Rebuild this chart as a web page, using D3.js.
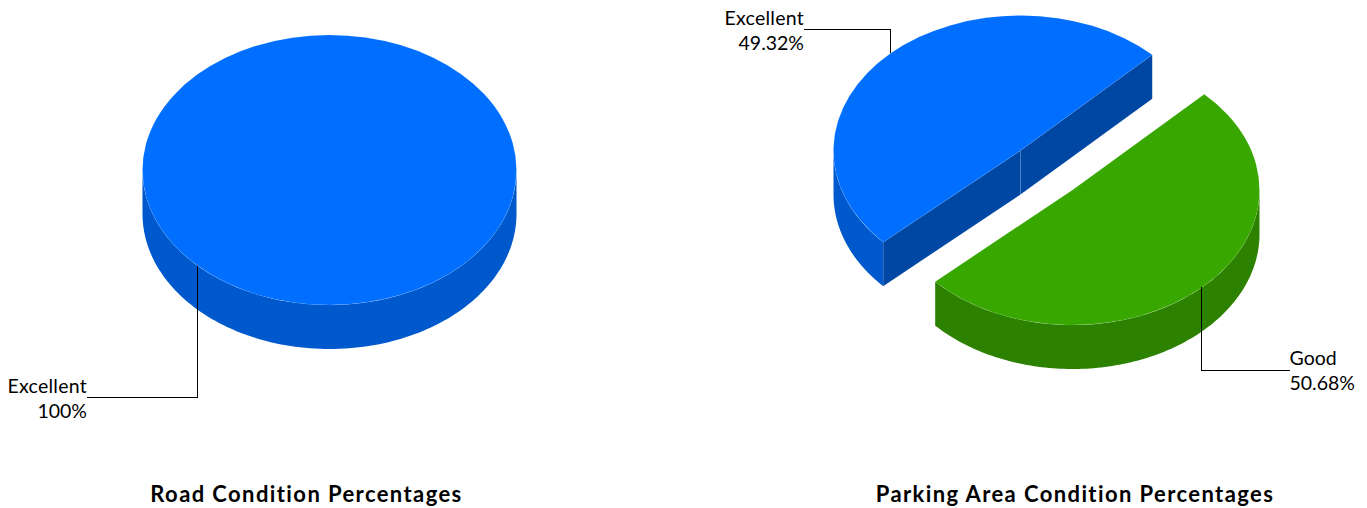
<!DOCTYPE html>
<html><head><meta charset="utf-8">
<script src="https://cdn.jsdelivr.net/npm/d3@7"></script>
<style>
html,body{margin:0;padding:0;background:#fff}
svg{display:block}
text{font-family:Lato,sans-serif;fill:#000}
</style></head><body>
<svg id="c" width="1367" height="508"></svg>
<script>
const roadLabels = ["Excellent"];
const roadValues = [100];
const roadDisplay = ["100%"];
const parkingLabels = ["Good", "Excellent"];
const parkingValues = [50.68, 49.32];
const parkingDisplay = ["50.68%", "49.32%"];
const sliceColors = {Excellent:{top:"#006FFF",wall:"#0059CC",cut:"#0047A3"},Good:{top:"#38A800",wall:"#2C8200",cut:"#226600"}};
const titles = ["Road Condition Percentages","Parking Area Condition Percentages"];

const RX=187, RY=135, DEPTH=44, START=44.8*Math.PI/180;
const svg=d3.select("#c");
const pie=d3.pie().sort(null).value(d=>d.value).startAngle(START).endAngle(START+2*Math.PI);
const xAt=(c,a)=>c.cx+RX*Math.sin(a), yAt=(c,a)=>c.cy-RY*Math.cos(a);
const lineGen=d3.line();

function drawSlice(g,c,s,col,whole){
  const arc=d3.arc().innerRadius(0).outerRadius(RX);
  const a0=Math.max(s.startAngle,Math.PI/2), a1=Math.min(s.endAngle,3*Math.PI/2);
  if(a1>a0){
    const st=d3.range(0,121).map(i=>a0+(a1-a0)*i/120);
    const up=st.map(a=>[xAt(c,a),yAt(c,a)]);
    const dn=st.slice().reverse().map(a=>[xAt(c,a),yAt(c,a)+DEPTH]);
    g.append("path").attr("d",lineGen(up.concat(dn))+"Z").attr("fill",col.wall);
  }
  if(!whole){
    [s.startAngle,s.endAngle].forEach(a=>{
      const x=xAt(c,a), y=yAt(c,a);
      const showFace=(a===s.endAngle&&s.endAngle>2*Math.PI)||(a===s.startAngle&&s.startAngle>Math.PI);
      if(showFace){
        g.append("path").attr("d",lineGen([[c.cx,c.cy],[x,y],[x,y+DEPTH],[c.cx,c.cy+DEPTH]])+"Z")
         .attr("fill",col.cut).attr("stroke","#fff").attr("stroke-opacity",0.1).attr("stroke-width",0.6);
      }
    });
  }
  g.append("path").attr("d",arc(s)).attr("transform",`translate(${c.cx},${c.cy}) scale(1,${RY/RX})`)
    .attr("fill",col.top).attr("stroke","#fff").attr("stroke-opacity",0.12).attr("stroke-width",0.6);
}
function leader(g,c,s,lab){
  const m=(s.startAngle+s.endAngle)/2, x=Math.floor(xAt(c,m)-0.4)+0.5, y=yAt(c,m);
  g.append("path").attr("d",lineGen([[x,y],[x,lab.y],[lab.x,lab.y]]))
    .attr("fill","none").attr("stroke","#000").attr("stroke-width",1).attr("shape-rendering","crispEdges");
  const anchor=lab.x<x?"end":"start";
  const ly=Math.round(lab.y);
  g.append("text").attr("x",lab.x).attr("y",ly-5).attr("text-anchor",anchor).attr("font-size",19.5)
    .attr("letter-spacing",lab.name==="Excellent"?0.25:0).text(lab.name);
  g.append("text").attr("x",lab.x).attr("y",ly+19.5).attr("text-anchor",anchor).attr("font-size",19.5).text(lab.val);
}
{
  const c={cx:329.5,cy:170};
  const arcs=pie(roadLabels.map((n,i)=>({name:n,value:roadValues[i]})));
  const g=svg.append("g");
  drawSlice(g,c,arcs[0],sliceColors.Excellent,true);
  leader(g,c,arcs[0],{x:87,y:397.5,name:roadLabels[0],val:roadDisplay[0]});
}
{
  const arcs=pie(parkingLabels.map((n,i)=>({name:n,value:parkingValues[i]})));
  const g=svg.append("g");
  const cB={cx:1020.5,cy:150.5}, cG={cx:1072.5,cy:190};
  drawSlice(g,cB,arcs[1],sliceColors.Excellent,false);
  drawSlice(g,cG,arcs[0],sliceColors.Good,false);
  leader(g,cB,arcs[1],{x:804,y:29.5,name:parkingLabels[1],val:parkingDisplay[1]});
  leader(g,cG,arcs[0],{x:1289.5,y:370,name:parkingLabels[0],val:parkingDisplay[0]});
}
svg.append("text").attr("x",306.5).attr("y",502).attr("text-anchor","middle").attr("font-size",22).attr("font-weight",700).attr("letter-spacing",1.4).text(titles[0]);
svg.append("text").attr("x",1075).attr("y",502).attr("text-anchor","middle").attr("font-size",22).attr("font-weight",700).attr("letter-spacing",1.4).text(titles[1]);
</script></body></html>
